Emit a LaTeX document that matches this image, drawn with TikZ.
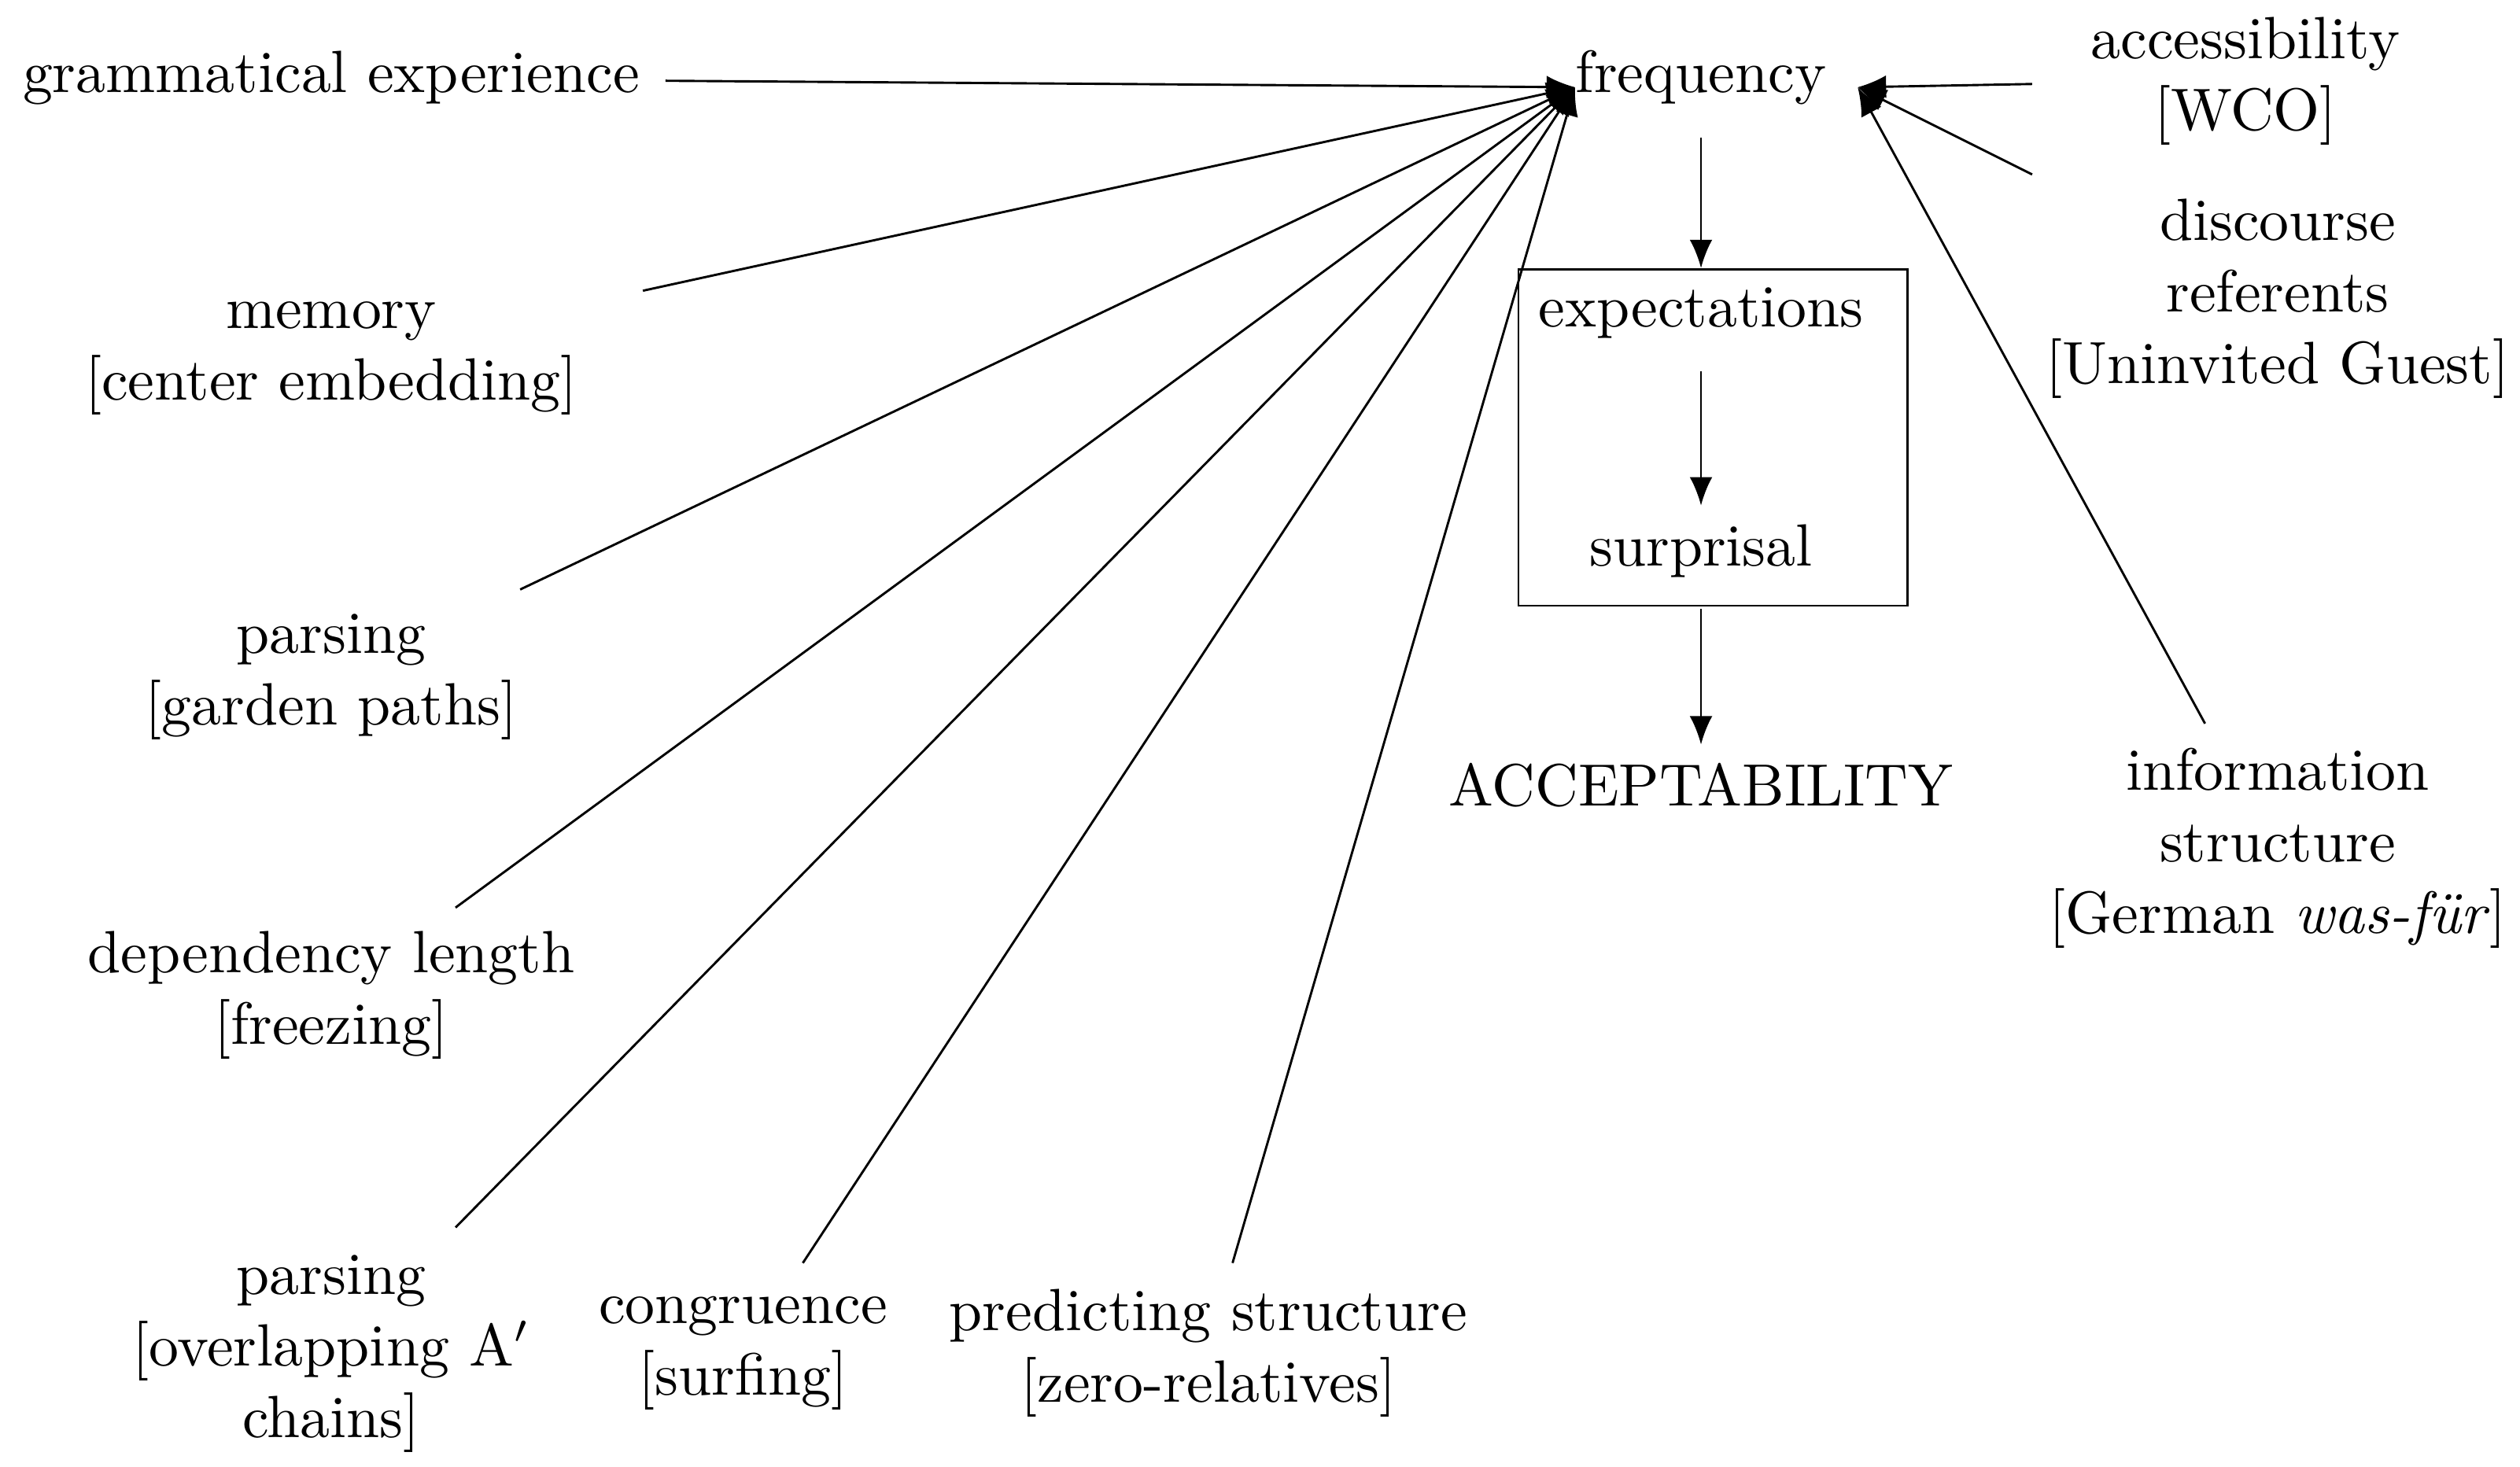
\documentclass[tikz,border=0pt]{standalone}
\usetikzlibrary{arrows.meta}
\begin{document}
\begin{tikzpicture}[x=0.01cm,y=-0.01cm,
    lbl/.style={align=center,font=\fontsize{10.5}{12.6}\selectfont,inner sep=1pt},
    arr/.style={-{Latex[length=5pt,width=4pt]}}]
    \useasboundingbox (0,0) rectangle (1560,908);
    % centre column
    \node[lbl] (freq) at (1053,48) {frequency};
    \node[lbl] (expect) at (1053,194) {expectations};
    \node[lbl] (surp) at (1053,341) {surprisal};
    \node[lbl] (accept) at (1053,486) {ACCEPTABILITY};
    \draw (940,167) rectangle (1181,375);
    \coordinate (hub) at (975,54);
    \coordinate (rhub) at (1150,54);
    \coordinate (f1) at (1053,85); \coordinate (f2) at (1053,166);
    \coordinate (e1) at (1053,230); \coordinate (e2) at (1053,313);
    \coordinate (s1) at (1053,377); \coordinate (s2) at (1053,461);
    \draw[arr] (f1) -- (f2);
    \draw[arr] (e1) -- (e2);
    \draw[arr] (s1) -- (s2);
    % left sources
    \node[lbl] (gram) at (205,48) {grammatical experience};
    \node[lbl] (mem) at (205,222) {memory\\ {[center embedding]}};
    \node[lbl] (gard) at (205,419) {parsing\\ {[garden paths]}};
    \node[lbl] (dep) at (205,616) {dependency length\\ {[freezing]}};
    \node[lbl] (over) at (205,838) {parsing\\ {[overlapping A$'$}\\ chains]};
    \node[lbl] (cong) at (460,838) {congruence\\ {[surfing]}};
    \node[lbl] (pred) at (748,838) {predicting structure\\ {[zero-relatives]}};
    \coordinate (a1) at (412,50); \coordinate (a2) at (398,180);
    \coordinate (a3) at (322,365); \coordinate (a4) at (282,562);
    \coordinate (a5) at (282,760); \coordinate (a6) at (497,782);
    \coordinate (a7) at (763,782);
    \foreach \s in {a1,a2,a3,a4,a5,a6,a7}
        \draw[arr] (\s) -- (hub);
    % right sources
    \node[lbl] (acc) at (1390,50) {accessibility\\ {[WCO]}};
    \node[lbl] (disc) at (1410,185) {discourse\\ referents\\ {[Uninvited Guest]}};
    \node[lbl] (info) at (1410,525) {information\\ structure\\ {[German \textit{was-f\"ur}]}};
    \coordinate (b1) at (1258,52); \coordinate (b2) at (1258,108);
    \coordinate (b3) at (1365,448);
    \foreach \s in {b1,b2,b3}
        \draw[arr] (\s) -- (rhub);
\end{tikzpicture}
\end{document}
